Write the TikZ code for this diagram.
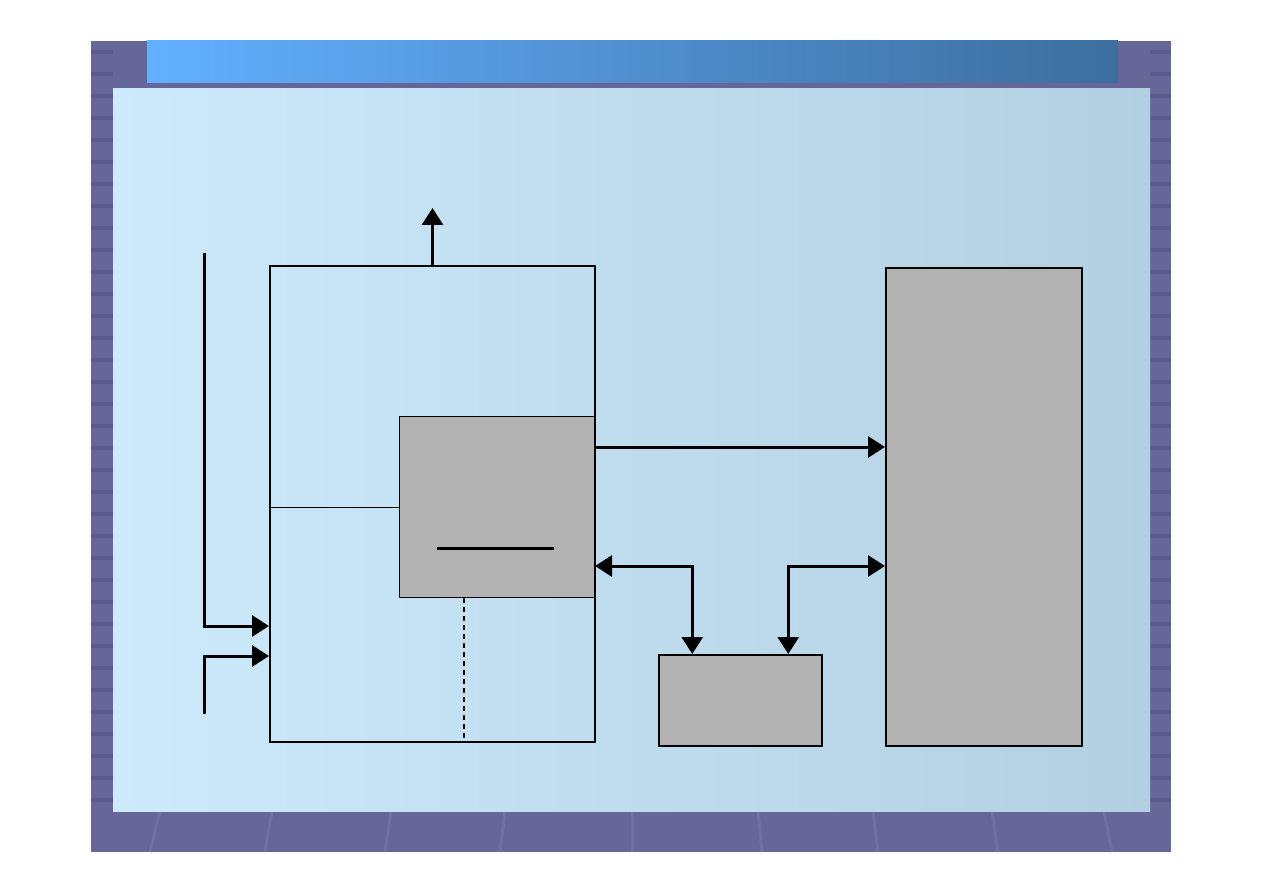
\documentclass[tikz,border=0pt]{standalone}
\usetikzlibrary{arrows.meta, positioning, calc}
\definecolor{frame}{HTML}{666699}
\definecolor{framedark}{HTML}{5A5A8C}
\definecolor{framelight}{HTML}{7070A2}
\definecolor{barleft}{HTML}{62B0FF}
\definecolor{barright}{HTML}{3D6E9E}
\definecolor{panelleft}{HTML}{CCEAFB}
\definecolor{panelright}{HTML}{B3CFE2}
\definecolor{blockgray}{HTML}{B2B2B2}

\begin{document}
\begin{tikzpicture}[
      x=1pt, y=-1pt,
      box/.style={rectangle, draw=black, line width=2pt, inner sep=0pt, anchor=north west},
      graybox/.style={box, fill=blockgray},
      arr/.style={-{Triangle[length=17pt, width=21pt]}, line width=3pt},
      dblarr/.style={{Triangle[length=17pt, width=21pt]}-{Triangle[length=17pt, width=21pt]}, line width=3pt}
    ]
      \useasboundingbox (0,0) rectangle (1263,893);
      \fill[white] (0,0) rectangle (1263,893);
      \fill[frame] (91,41) rectangle (1171,852);
      \foreach \y in {52,74,...,800} {
        \draw[framedark, line width=4pt] (91,\y) -- (113,\y);
        \draw[framedark, line width=4pt] (1150,\y) -- (1171,\y);
      }
      \foreach \xa/\xb in {160/150,272/265,391/385,505/500,632/632,758/762,873/878,992/998,1104/1112}
        \draw[framelight, line width=3pt] (\xa,811) -- (\xb,852);
      \shade[left color=barleft, right color=barright] (147,41) rectangle (1118,83);
      \shade[left color=panelleft, right color=panelright] (113,89) rectangle (1150,811);

      \node[graybox, line width=1pt, minimum width=195pt, minimum height=181pt] (unit) at (399,416) {};
      \node[box, minimum width=325pt, minimum height=476pt] (ctrl) at (269,265) {};
      \node[graybox, line width=1.5pt, minimum width=163pt, minimum height=91pt] (mem) at (658,654) {};
      \node[graybox, minimum width=196pt, minimum height=478pt] (dev) at (885,267) {};
      \coordinate (out) at (431,208);
      \coordinate (in1) at (204,253);
      \coordinate (in2) at (204,714);

      \draw[line width=1pt] (unit.west) -- (unit.west -| ctrl.west);
      \draw[line width=3pt] (437,548) -- (554,548);
      \draw[line width=2pt, dash pattern=on 5pt off 4pt] (unit.south -| 464,0) -- (ctrl.south -| 464,0);

      \draw[arr] (ctrl.north) -- (ctrl.north |- out);
      \draw[arr] (in1) |- ([yshift=-122pt]ctrl.west);
      \draw[arr] (in2) |- ([yshift=-152pt]ctrl.west);
      \draw[arr] ([yshift=60pt]unit.east) -- ([yshift=60pt]unit.east -| dev.west);
      \draw[dblarr] ([yshift=-59pt]unit.east) -| ([xshift=-48pt]mem.north);
      \draw[dblarr] ([xshift=48pt]mem.north) |- ([yshift=-59pt]unit.east -| dev.west);
    \end{tikzpicture}
\end{document}
